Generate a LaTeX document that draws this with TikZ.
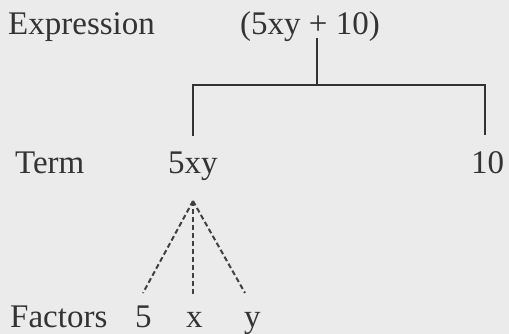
\documentclass[tikz,border=0pt]{standalone}
\usepackage{fontspec}
\setmainfont{Liberation Serif}
\begin{document}
\begin{tikzpicture}[x=1pt,y=-1pt,
  lbl/.style={anchor=base west,inner sep=0pt,text=black!80,font=\fontsize{33}{36}\selectfont},
  solidline/.style={draw=black!80,line width=2pt},
  dashline/.style={draw=black!75,line width=2pt,dash pattern=on 5pt off 3pt}]
\fill[black!8] (0,0) rectangle (509,334);
\useasboundingbox (0,0) rectangle (509,334);
\node[lbl] (expr) at (8,35) {Expression};
\node[lbl] (e) at (240,35) {(5xy + 10)};
\node[lbl] (term) at (15,174) {Term};
\node[lbl] (t1) at (168,174) {5xy};
\node[lbl] (t2) at (471,174) {10};
\node[lbl] (fac) at (10,327) {Factors};
\node[lbl] (f1) at (135,327) {5};
\node[lbl] (f2) at (186,327) {x};
\node[lbl] (f3) at (244,327) {y};
\coordinate (top) at (317,38);
\coordinate (mid) at (317,85);
\coordinate (bl) at (193,85);
\coordinate (br) at (485,85);
\coordinate (bl2) at (193,136);
\coordinate (br2) at (485,135);
\coordinate (apex) at (193,201);
\coordinate (d1) at (143,293);
\coordinate (d2) at (193,295);
\coordinate (d3) at (245,293);
\draw[solidline] (top) -- (mid);
\draw[solidline] (bl2) -- (bl) -- (br) -- (br2);
\draw[dashline] (apex) -- (d1);
\draw[dashline] (apex) -- (d2);
\draw[dashline] (apex) -- (d3);
\end{tikzpicture}
\end{document}
